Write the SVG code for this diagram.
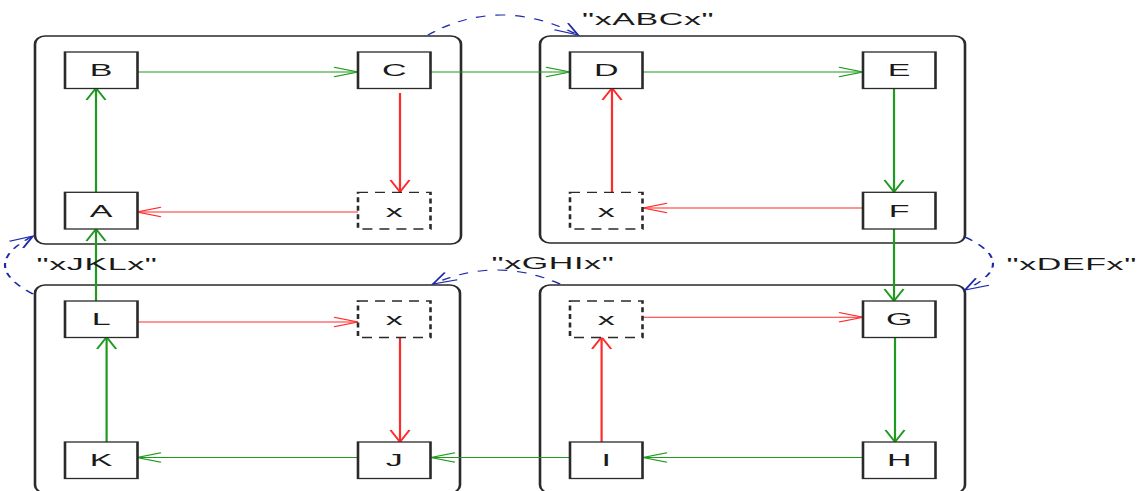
<svg xmlns="http://www.w3.org/2000/svg" width="1143" height="491" viewBox="0 0 1143 491">
  <style>
    .frame { fill: none; stroke: #2a2a2a; stroke-width: 1.3; }
    .node rect { fill: #ffffff; stroke: #2a2a2a; stroke-width: 1.3; }
    .node.ghost rect { stroke-dasharray: 5 3.5; }
    .node text { font-family: "Liberation Sans", Arial, sans-serif; font-size: 17px; fill: #1a1a1a; text-anchor: middle; }
    .label { font-family: "Liberation Sans", Arial, sans-serif; font-size: 17px; fill: #1a1a1a; letter-spacing: 0.3px; }
    .green { fill: none; stroke: #1e9a1e; stroke-width: 1.1; marker-end: url(#vee-green); }
    .red { fill: none; stroke: #ff2a2a; stroke-width: 1.1; marker-end: url(#vee-red); }
    .link { fill: none; stroke: #1f2aa8; stroke-width: 1.1; stroke-dasharray: 5 5; marker-end: url(#vee-blue); }
  </style>
  <defs>
    <marker id="vee-green" markerUnits="userSpaceOnUse" markerWidth="30" markerHeight="30" refX="0" refY="0" orient="auto" overflow="visible">
      <path d="M-12,-4.75 L0,0 L-12,4.75" fill="none" stroke="#1e9a1e" stroke-width="1.1"/>
    </marker>
    <marker id="vee-red" markerUnits="userSpaceOnUse" markerWidth="30" markerHeight="30" refX="0" refY="0" orient="auto" overflow="visible">
      <path d="M-12,-4.75 L0,0 L-12,4.75" fill="none" stroke="#ff2a2a" stroke-width="1.1"/>
    </marker>
    <marker id="vee-blue" markerUnits="userSpaceOnUse" markerWidth="30" markerHeight="30" refX="0" refY="0" orient="auto" overflow="visible">
      <path d="M-12,-4.75 L0,0 L-12,4.75" fill="none" stroke="#1f2aa8" stroke-width="1.1"/>
    </marker>
  </defs>
  <rect width="1143" height="491" fill="#ffffff"/>
  <!-- the whole layout is drawn in a half-width space and stretched horizontally -->
  <g transform="scale(2,1)">
    <g id="clusters">
      <rect id="cluster-abc" class="frame" x="17.5" y="36" width="213" height="208" rx="5" ry="8"/>
      <rect id="cluster-def" class="frame" x="270" y="36" width="212.5" height="207" rx="5" ry="8"/>
      <rect id="cluster-jkl" class="frame" x="17.5" y="285" width="212.5" height="208" rx="5" ry="8"/>
      <rect id="cluster-ghi" class="frame" x="270" y="285" width="212.5" height="208" rx="5" ry="8"/>
    </g>

    <g id="connectors">
      <!-- main cycle -->
      <path class="green" d="M48,192 L48,88"/>
      <path class="green" d="M68.5,72 L179,72"/>
      <path class="green" d="M209,72 L285,72"/>
      <path class="green" d="M321.5,72 L431.5,72"/>
      <path class="green" d="M447,88 L447,192"/>
      <path class="green" d="M447,229 L447,301"/>
      <path class="green" d="M447.5,337 L447.5,442"/>
      <path class="green" d="M431.5,457.5 L321.5,457.5"/>
      <path class="green" d="M285,457.5 L215.5,457.5"/>
      <path class="green" d="M179,457.5 L68.5,457.5"/>
      <path class="green" d="M53.3,442 L53.3,337"/>
      <path class="green" d="M48,301 L48,229"/>
      <!-- detours through the x nodes -->
      <path class="red" d="M200,93 L200,192"/>
      <path class="red" d="M179,212 L68.5,212"/>
      <path class="red" d="M306,192 L306,88"/>
      <path class="red" d="M431.5,208 L321.5,208"/>
      <path class="red" d="M68.5,322 L179,322"/>
      <path class="red" d="M200,337.5 L200,442"/>
      <path class="red" d="M300.8,442 L300.8,337"/>
      <path class="red" d="M321.5,317.3 L431.5,317.3"/>
      <!-- links between clusters -->
      <path class="link" d="M214,35 Q250,-5 289,35"/>
      <path class="link" d="M482.5,237 Q510.5,263.5 482.5,290"/>
      <path class="link" d="M280,284 Q248.5,256 216.5,284"/>
      <path class="link" d="M16.5,294 Q-11.5,265 16.5,236"/>
    </g>

    <g id="node-B" class="node"><rect x="32.5" y="52" width="36.25" height="36.5"/><text x="50.6" y="76.5">B</text></g>
    <g id="node-C" class="node"><rect x="179" y="52" width="36.25" height="36.5"/><text x="197.1" y="76.5">C</text></g>
    <g id="node-D" class="node"><rect x="285" y="52" width="36.25" height="36.5"/><text x="303.1" y="76.5">D</text></g>
    <g id="node-E" class="node"><rect x="431.5" y="52" width="36.25" height="36.5"/><text x="449.6" y="76.5">E</text></g>

    <g id="node-A" class="node"><rect x="32.5" y="192.3" width="36.25" height="36.7"/><text x="50.6" y="216.8">A</text></g>
    <g id="node-x1" class="node ghost"><rect x="179" y="192.3" width="36.25" height="36.7"/><text x="197.1" y="216.8">x</text></g>
    <g id="node-x2" class="node ghost"><rect x="285" y="192.3" width="36.25" height="36.7"/><text x="303.1" y="216.8">x</text></g>
    <g id="node-F" class="node"><rect x="431.5" y="192.3" width="36.25" height="36.7"/><text x="449.6" y="216.8">F</text></g>

    <g id="node-L" class="node"><rect x="32.5" y="301" width="36.25" height="36.5"/><text x="50.6" y="325.5">L</text></g>
    <g id="node-x4" class="node ghost"><rect x="179" y="301" width="36.25" height="36.5"/><text x="197.1" y="325.5">x</text></g>
    <g id="node-x3" class="node ghost"><rect x="285" y="301" width="36.25" height="36.5"/><text x="303.1" y="325.5">x</text></g>
    <g id="node-G" class="node"><rect x="431.5" y="301" width="36.25" height="36.5"/><text x="449.6" y="325.5">G</text></g>

    <g id="node-K" class="node"><rect x="32.5" y="442" width="36.25" height="36.5"/><text x="50.6" y="466.5">K</text></g>
    <g id="node-J" class="node"><rect x="179" y="442" width="36.25" height="36.5"/><text x="197.1" y="466.5">J</text></g>
    <g id="node-I" class="node"><rect x="285" y="442" width="36.25" height="36.5"/><text x="303.1" y="466.5">I</text></g>
    <g id="node-H" class="node"><rect x="431.5" y="442" width="36.25" height="36.5"/><text x="449.6" y="466.5">H</text></g>

    <g id="labels">
      <text class="label" x="291" y="25">"xABCx"</text>
      <text class="label" x="503.3" y="270">"xDEFx"</text>
      <text class="label" x="245.8" y="269">"xGHIx"</text>
      <text class="label" x="18.3" y="270">"xJKLx"</text>
    </g>
  </g>
</svg>
